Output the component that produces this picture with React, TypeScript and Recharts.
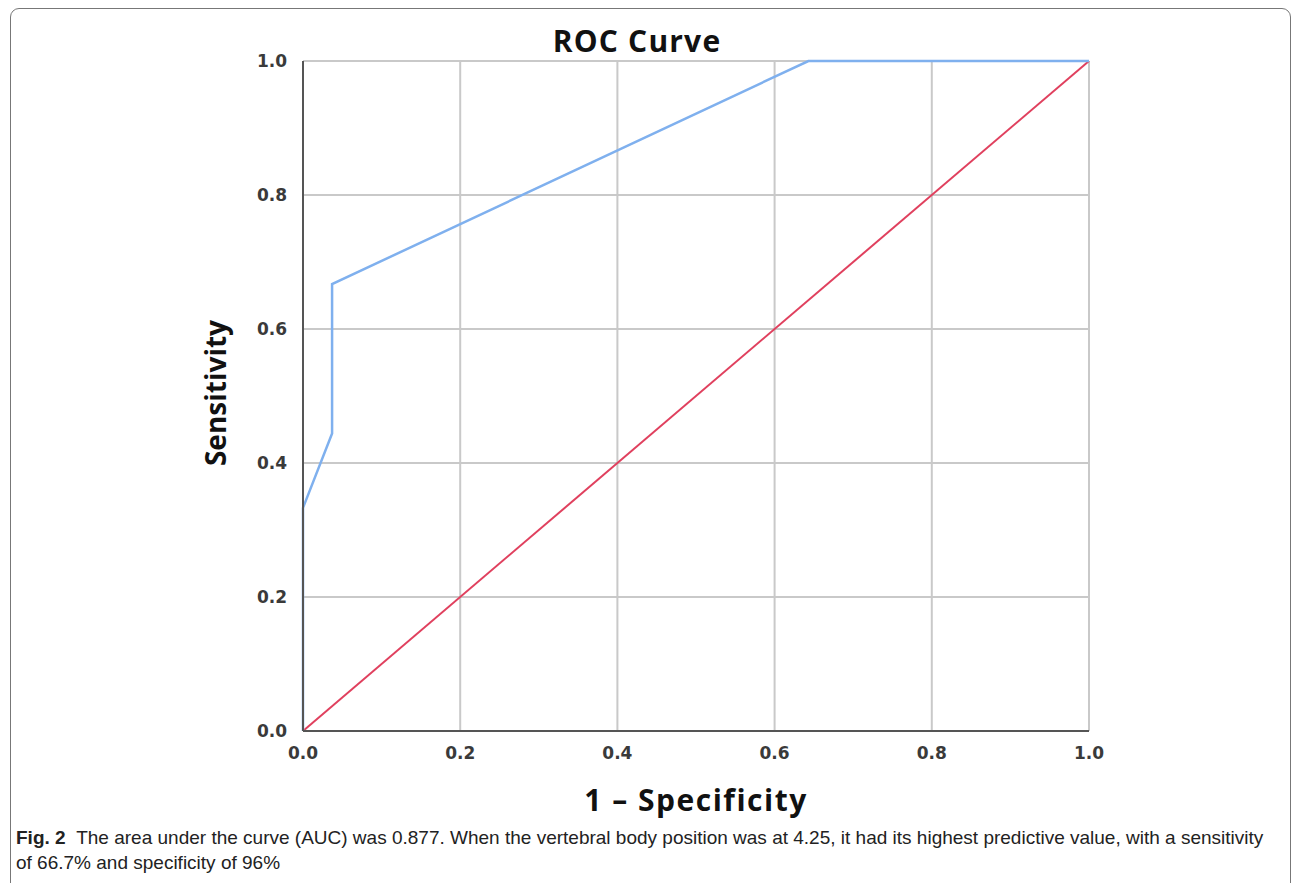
import { LineChart, Line, XAxis, YAxis, CartesianGrid } from 'recharts';

// ROC curve points (1 - specificity, sensitivity)
const rocFpr = [0, 0, 0.037, 0.037, 0.643, 1.0];
const rocTpr = [0, 0.333, 0.444, 0.667, 1.0, 1.0];
// reference diagonal
const refFpr = [0, 1];
const refTpr = [0, 1];
const axisTicks = [0, 0.2, 0.4, 0.6, 0.8, 1.0];

const rocData = rocFpr.map((x, i) => ({ x, y: rocTpr[i] }));
const refData = refFpr.map((x, i) => ({ x, y: refTpr[i] }));

const headFont = '"Open Sans", "DejaVu Sans", sans-serif';
const tickStyle = { fill: '#3a3a3a', fontSize: 17, fontWeight: 700, fontFamily: '"DejaVu Sans", sans-serif' };

const XTitle = ({ viewBox }: any) => (
    <text
        x={viewBox.x + viewBox.width / 2}
        y={viewBox.y + 80}
        textAnchor="middle"
        fontFamily={headFont}
        fontWeight={700}
        fontSize={30}
        letterSpacing={1.5}
        fill="#111"
    >
        1 – Specificity
    </text>
);

const YTitle = ({ viewBox }: any) => {
    const cx = 226;
    const cy = viewBox.y + viewBox.height / 2 - 3;
    return (
        <text
            x={cx}
            y={cy}
            transform={`rotate(-90 ${cx} ${cy})`}
            textAnchor="middle"
            fontFamily={headFont}
            fontWeight={700}
            fontSize={28}
            fill="#111"
        >
            Sensitivity
        </text>
    );
};

export default function App() {
    return (
        <div style={{ position: 'absolute', left: 0, top: 0, width: 1295, height: 883, overflow: 'hidden', background: '#fff' }}>
            {/* figure frame */}
            <div
                style={{
                    position: 'absolute',
                    left: 10,
                    top: 8,
                    width: 1281,
                    height: 890,
                    border: '1.5px solid #777',
                    borderRadius: 9,
                    boxSizing: 'border-box',
                }}
            />
            <div
                style={{
                    position: 'absolute',
                    left: 0,
                    top: 20,
                    width: 1274,
                    textAlign: 'center',
                    fontFamily: headFont,
                    fontWeight: 700,
                    fontSize: 30,
                    letterSpacing: 1.2,
                    color: '#111',
                }}
            >
                ROC Curve
            </div>
            <div style={{ position: 'absolute', left: 0, top: 0 }}>
                <LineChart
                    width={1295}
                    height={883}
                    margin={{ top: 61, right: 206, bottom: 122, left: 183 }}
                >
                    <CartesianGrid stroke="#c9c9c9" strokeWidth={2} />
                    <XAxis
                        dataKey="x"
                        type="number"
                        domain={[0, 1]}
                        ticks={axisTicks}
                        tickFormatter={(v) => v.toFixed(1)}
                        tick={tickStyle}
                        tickLine={false}
                        axisLine={{ stroke: '#555', strokeWidth: 2 }}
                        height={30}
                        tickMargin={10}
                        allowDuplicatedCategory={false}
                        label={<XTitle />}
                    />
                    <YAxis
                        dataKey="y"
                        type="number"
                        domain={[0, 1]}
                        ticks={axisTicks}
                        tickFormatter={(v) => v.toFixed(1)}
                        tick={tickStyle}
                        tickLine={false}
                        axisLine={{ stroke: '#555', strokeWidth: 2 }}
                        width={120}
                        tickMargin={10}
                        label={<YTitle />}
                    />
                    <Line
                        data={refData}
                        dataKey="y"
                        type="linear"
                        stroke="#e0405e"
                        strokeWidth={2}
                        dot={false}
                        isAnimationActive={false}
                    />
                    <Line
                        data={rocData}
                        dataKey="y"
                        type="linear"
                        stroke="#7fb0ee"
                        strokeWidth={2.5}
                        dot={false}
                        isAnimationActive={false}
                    />
                </LineChart>
            </div>
            <div
                style={{
                    position: 'absolute',
                    left: 16,
                    top: 825,
                    width: 1275,
                    fontFamily: '"Liberation Sans", sans-serif',
                    fontSize: 19,
                    lineHeight: '25px',
                    color: '#222',
                    whiteSpace: 'nowrap',
                }}
            >
                <b>Fig. 2</b>&nbsp;&nbsp;The area under the curve (AUC) was 0.877. When the vertebral body position was at 4.25, it had its highest predictive value, with a sensitivity
                <br />
                of 66.7% and specificity of 96%
            </div>
        </div>
    );
}
